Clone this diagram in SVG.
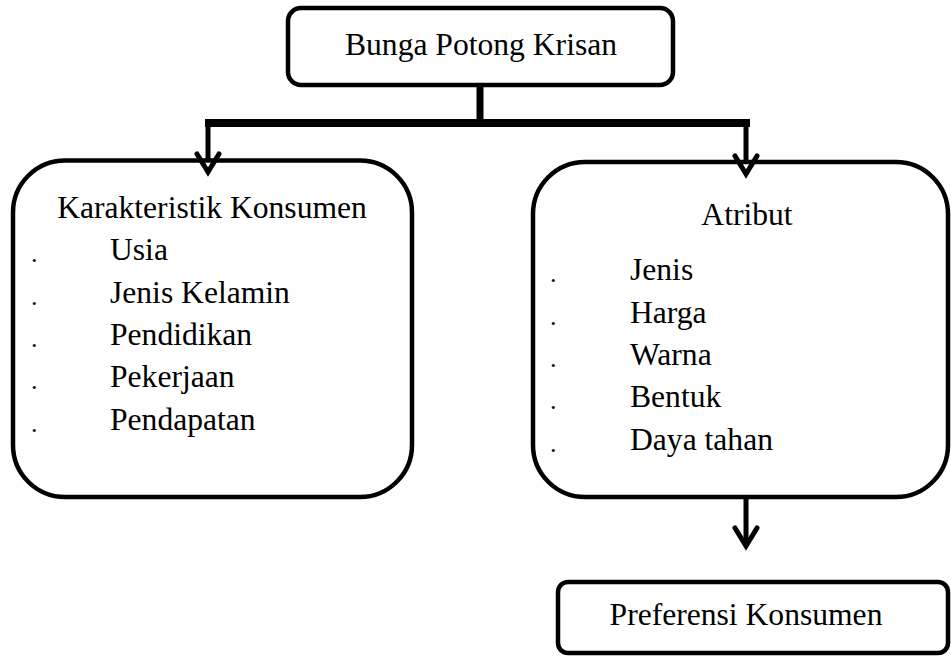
<svg xmlns="http://www.w3.org/2000/svg" width="951" height="657" viewBox="0 0 951 657">
<style>
.box{fill:#fff;stroke:#000;stroke-width:4.5}
.t{font-family:'Liberation Serif','Times New Roman','Tinos','DejaVu Serif',serif;font-size:31.6px;fill:#000}
.c{text-anchor:middle}
.d{font-family:'Liberation Serif','Times New Roman','Tinos','DejaVu Serif',serif;font-size:26px;fill:#000}
.ln{stroke:#000;fill:none}
.ah{stroke:#000;fill:none;stroke-width:5;stroke-linecap:round;stroke-linejoin:miter}
</style>
<rect width="951" height="657" fill="#fff"/>
<g id="connectors">
<line class="ln" x1="480" y1="85" x2="480" y2="123" stroke-width="7"/>
<line class="ln" x1="205" y1="123" x2="750" y2="123" stroke-width="8"/>
<line class="ln" x1="208" y1="120" x2="208" y2="170" stroke-width="5"/>
<line class="ln" x1="746" y1="120" x2="746" y2="172" stroke-width="5"/>
<line class="ln" x1="746" y1="497" x2="746" y2="545" stroke-width="5"/>
</g>
<g id="node-top">
<rect class="box" x="288" y="8" width="385" height="77" rx="13"/>
<text class="t c" x="481" y="55">Bunga Potong Krisan</text>
</g>
<g id="node-karakteristik">
<rect class="box" x="13" y="160.5" width="399" height="336.5" rx="52"/>
<text class="t c" x="212" y="218">Karakteristik Konsumen</text>
<text class="d" x="31" y="262">.</text><text class="t" x="110" y="260">Usia</text>
<text class="d" x="31" y="305">.</text><text class="t" x="110" y="303">Jenis Kelamin</text>
<text class="d" x="31" y="347">.</text><text class="t" x="110" y="345">Pendidikan</text>
<text class="d" x="31" y="389">.</text><text class="t" x="110" y="387">Pekerjaan</text>
<text class="d" x="31" y="432">.</text><text class="t" x="110" y="430">Pendapatan</text>
</g>
<g id="node-atribut">
<rect class="box" x="533" y="162" width="415" height="335" rx="52"/>
<text class="t c" x="747" y="225">Atribut</text>
<text class="d" x="550" y="282">.</text><text class="t" x="630" y="280">Jenis</text>
<text class="d" x="550" y="325">.</text><text class="t" x="630" y="323">Harga</text>
<text class="d" x="550" y="367">.</text><text class="t" x="630" y="365">Warna</text>
<text class="d" x="550" y="409">.</text><text class="t" x="630" y="407">Bentuk</text>
<text class="d" x="550" y="452">.</text><text class="t" x="630" y="450">Daya tahan</text>
</g>
<g id="node-preferensi">
<rect class="box" x="558" y="582" width="390" height="71" rx="10"/>
<text class="t c" x="746" y="625">Preferensi Konsumen</text>
</g>
<g id="arrowheads">
<polyline class="ah" points="197,154 208,172 219,154"/>
<polyline class="ah" points="735,156 746,174 757,156"/>
<polyline class="ah" points="735,528 746,546 757,528"/>
</g>
</svg>
